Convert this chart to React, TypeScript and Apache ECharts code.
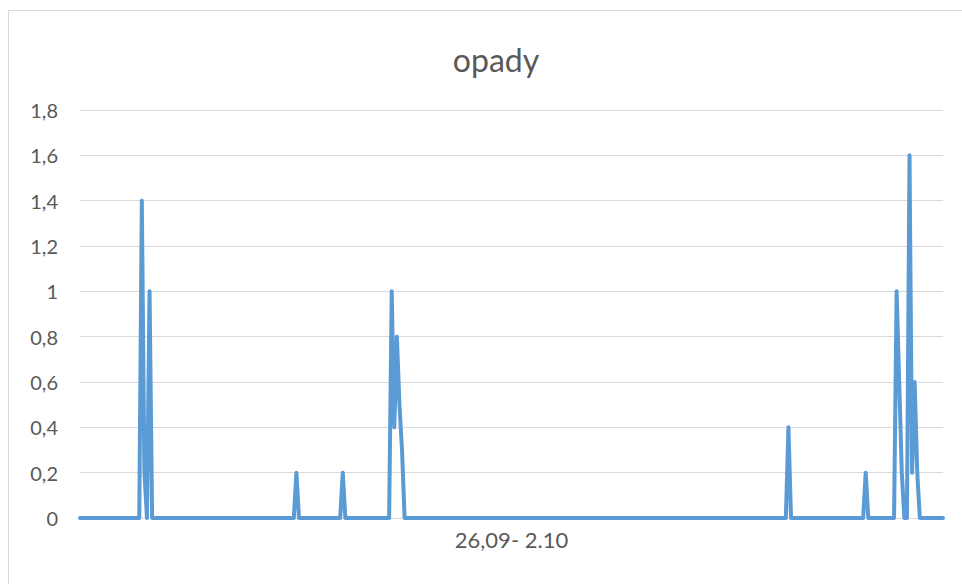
import React, { useEffect, useRef } from "react";
import * as echarts from "echarts";

// Half-hourly precipitation readings, 26.09 - 2.10 (48 readings per day)
const day1 = [
  0, 0, 0, 0, 0, 0, 0, 0, 0, 0, 0, 0,
  0, 0, 0, 0, 0, 0, 0, 0, 0, 0, 0, 0,
  1.4, 0.2, 0, 1.0, 0, 0, 0, 0, 0, 0, 0, 0,
  0, 0, 0, 0, 0, 0, 0, 0, 0, 0, 0, 0,
];
const day2 = [
  0, 0, 0, 0, 0, 0, 0, 0, 0, 0, 0, 0,
  0, 0, 0, 0, 0, 0, 0, 0, 0, 0, 0, 0,
  0, 0, 0, 0, 0, 0, 0, 0, 0, 0, 0, 0,
  0.2, 0, 0, 0, 0, 0, 0, 0, 0, 0, 0, 0,
];
const day3 = [
  0, 0, 0, 0, 0, 0, 0.2, 0, 0, 0, 0, 0,
  0, 0, 0, 0, 0, 0, 0, 0, 0, 0, 0, 0,
  0, 1.0, 0.4, 0.8, 0.5, 0.3, 0, 0, 0, 0, 0, 0,
  0, 0, 0, 0, 0, 0, 0, 0, 0, 0, 0, 0,
];
const day4 = [
  0, 0, 0, 0, 0, 0, 0, 0, 0, 0, 0, 0,
  0, 0, 0, 0, 0, 0, 0, 0, 0, 0, 0, 0,
  0, 0, 0, 0, 0, 0, 0, 0, 0, 0, 0, 0,
  0, 0, 0, 0, 0, 0, 0, 0, 0, 0, 0, 0,
];
const day5 = [
  0, 0, 0, 0, 0, 0, 0, 0, 0, 0, 0, 0,
  0, 0, 0, 0, 0, 0, 0, 0, 0, 0, 0, 0,
  0, 0, 0, 0, 0, 0, 0, 0, 0, 0, 0, 0,
  0, 0, 0, 0, 0, 0, 0, 0, 0, 0, 0, 0,
];
const day6 = [
  0, 0, 0, 0, 0, 0, 0, 0, 0, 0, 0, 0,
  0, 0, 0, 0, 0, 0, 0, 0, 0, 0, 0, 0,
  0, 0, 0, 0, 0, 0, 0, 0, 0, 0, 0, 0.4,
  0, 0, 0, 0, 0, 0, 0, 0, 0, 0, 0, 0,
];
const day7 = [
  0, 0, 0, 0, 0, 0, 0, 0, 0, 0, 0, 0,
  0, 0, 0, 0, 0, 0.2, 0, 0, 0, 0, 0, 0,
  0, 0, 0, 0, 0, 1.0, 0.6, 0.2, 0, 0, 1.6, 0.2,
  0.6, 0.2, 0, 0, 0, 0, 0, 0, 0, 0, 0, 0,
];

const titleText = "opady";
const xAxisTitle = "26,09- 2.10";
const yMin = 0;
const yMax = 1.8;
const yStep = 0.2;

const values = [...day1, ...day2, ...day3, ...day4, ...day5, ...day6, ...day7];
const categories = values.map((_, i) => String(i));

const FONT = "Lato, 'Noto Sans', sans-serif";
const TEXT = "#595959";

export default function App() {
  const ref = useRef<HTMLDivElement>(null);
  useEffect(() => {
    if (!ref.current) return;
    const chart = echarts.init(ref.current, undefined, { renderer: "svg" });
    chart.setOption({
      animation: false,
      backgroundColor: "#ffffff",
      textStyle: { fontFamily: FONT },
      title: {
        text: titleText,
        left: 491,
        top: 38,
        textAlign: "center",
        textStyle: { fontFamily: FONT, fontSize: 32, fontWeight: "normal", color: TEXT },
      },
      graphic: [
        {
          type: "rect",
          shape: { x: 8.5, y: 10.5, width: 1000, height: 1000 },
          style: { fill: "none", stroke: "#d9d9d9", lineWidth: 1 },
          silent: true,
        },
      ],
      grid: { left: 80, right: 19, top: 110, bottom: 66, containLabel: false },
      xAxis: {
        type: "category",
        data: categories,
        boundaryGap: false,
        axisLine: { show: true, lineStyle: { color: "#d9d9d9" } },
        axisTick: { show: false },
        axisLabel: { show: false },
        splitLine: { show: false },
        name: xAxisTitle,
        nameLocation: "middle",
        nameGap: 10,
        nameTextStyle: { fontFamily: FONT, fontSize: 22, color: TEXT, verticalAlign: "top" },
      },
      yAxis: {
        type: "value",
        min: yMin,
        max: yMax,
        interval: yStep,
        axisLine: { show: false },
        axisTick: { show: false },
        splitLine: { show: true, lineStyle: { color: "#d9d9d9", width: 1 } },
        axisLabel: {
          margin: 22,
          fontFamily: FONT,
          fontSize: 20,
          color: TEXT,
          formatter: (v: number) => String(Math.round(v * 10) / 10).replace(".", ","),
        },
      },
      series: [
        {
          type: "line",
          data: values,
          showSymbol: false,
          symbol: "none",
          lineStyle: { color: "#5b9bd5", width: 4, join: "round", cap: "round" },
          itemStyle: { color: "#5b9bd5" },
        },
      ],
    });
    return () => chart.dispose();
  }, []);
  return (
    <div
      ref={ref}
      style={{ position: "absolute", left: 0, top: 0, width: 962, height: 584 }}
    />
  );
}
